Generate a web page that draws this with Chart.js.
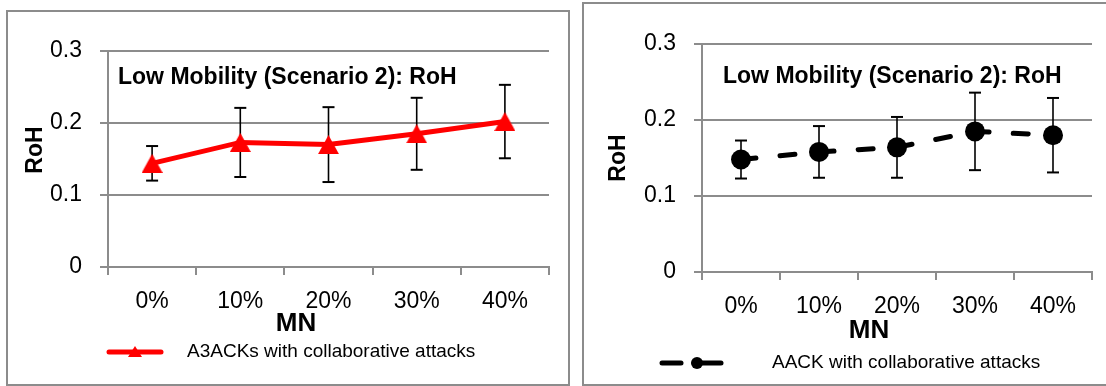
<!DOCTYPE html>
<html>
<head>
  <title>Low Mobility (Scenario 2): RoH</title>
  <script src="https://cdn.jsdelivr.net/npm/chart.js"></script>
  <style>
    body { margin: 0; background: #fff; overflow: hidden; }
    .box { position: absolute; border: 2px solid #8c8c8c; box-sizing: border-box; }
    .wrap { position: absolute; top: 0; height: 386px; }
  </style>
</head>
<body>
  <div class="box" style="left:6px;top:10px;width:564px;height:376px"></div>
  <div class="box" style="left:582px;top:2px;width:600px;height:384px"></div>
  <div class="wrap" style="left:0;width:575px"><canvas id="leftChart"></canvas></div>
  <div class="wrap" style="left:576px;width:530px"><canvas id="rightChart"></canvas></div>
  <script>
    // values
    const mnLabels = ['0%', '10%', '20%', '30%', '40%'];
    const a3ackRoH = [0.144, 0.173, 0.170, 0.185, 0.202];
    const a3ackErr = [0.024, 0.048, 0.052, 0.050, 0.051];
    const aackRoH = [0.148, 0.158, 0.164, 0.185, 0.180];
    const aackErr = [0.025, 0.034, 0.040, 0.051, 0.049];
    const rohTicks = [0, 0.1, 0.2, 0.3];
    const chartTitle = 'Low Mobility (Scenario 2): RoH';
    const xTitle = 'MN';
    const yTitle = 'RoH';
    const a3ackName = 'A3ACKs with collaborative attacks';
    const aackName = 'AACK with collaborative attacks';

    const FONT = '"Liberation Sans", Arial, sans-serif';
    const GRID = '#8c8c8c';
    Chart.defaults.font.family = FONT;
    Chart.defaults.color = '#000';

    // excel style triangle, centred on its bounding box
    function triangle(w, h, color) {
      const c = document.createElement('canvas');
      c.width = w; c.height = h;
      const g = c.getContext('2d');
      g.fillStyle = color;
      g.beginPath();
      g.moveTo(w / 2, 0); g.lineTo(w, h); g.lineTo(0, h);
      g.closePath(); g.fill();
      return c;
    }

    function seg(ctx, x1, y1, x2, y2) {
      ctx.beginPath(); ctx.moveTo(x1, y1); ctx.lineTo(x2, y2); ctx.stroke();
    }

    const errorBars = {
      id: 'errorBars',
      beforeDatasetsDraw(chart) {
        const { ctx, scales: { x, y } } = chart;
        chart.data.datasets.forEach(ds => {
          if (!ds.errors) return;
          ctx.save();
          ctx.strokeStyle = '#000';
          ds.data.forEach((v, i) => {
            const px = x.getPixelForValue(i);
            const top = y.getPixelForValue(v + ds.errors[i]);
            const bot = y.getPixelForValue(v - ds.errors[i]);
            ctx.lineWidth = 1.6;
            seg(ctx, px, top, px, bot);
            ctx.lineWidth = 2;
            seg(ctx, px - 6, top, px + 6, top);
            seg(ctx, px - 6, bot, px + 6, bot);
          });
          ctx.restore();
        });
      }
    };

    // chart title inside the plot, axis titles and the legend row
    const extras = {
      id: 'extras',
      afterDraw(chart, args, o) {
        const ctx = chart.ctx;
        const ds = chart.data.datasets[0];
        ctx.save();
        ctx.fillStyle = '#000';
        ctx.textBaseline = 'middle';

        ctx.font = 'bold 23px ' + FONT;
        ctx.textAlign = 'left';
        ctx.fillText(chartTitle, o.title[0], o.title[1]);

        ctx.textAlign = 'center';
        ctx.save();
        ctx.translate(o.yTitle[0], o.yTitle[1]);
        ctx.rotate(-Math.PI / 2);
        ctx.fillText(yTitle, 0, 0);
        ctx.restore();

        ctx.font = 'bold 26px ' + FONT;
        ctx.fillText(xTitle, o.xTitle[0], o.xTitle[1]);

        const lg = o.legend;
        ctx.strokeStyle = ds.borderColor;
        ctx.fillStyle = ds.borderColor;
        ctx.lineWidth = ds.borderWidth;
        ctx.lineCap = 'round';
        lg.lines.forEach(l => seg(ctx, l[0], lg.y, l[1], lg.y));
        if (lg.marker === 'triangle') {
          ctx.drawImage(triangle(14, 11, ds.borderColor), lg.mx - 7, lg.y - 6);
        } else {
          ctx.beginPath(); ctx.arc(lg.mx, lg.y, 6, 0, Math.PI * 2); ctx.fill();
        }
        ctx.fillStyle = '#000';
        ctx.font = '19px ' + FONT;
        ctx.textAlign = 'left';
        ctx.fillText(ds.label, lg.tx, lg.y);
        ctx.restore();
      }
    };

    function makeChart(id, dataset, axisW, axisH, pad, extraOpts) {
      return new Chart(document.getElementById(id), {
        type: 'line',
        data: { labels: mnLabels, datasets: [dataset] },
        options: {
          responsive: true,
          maintainAspectRatio: false,
          animation: false,
          events: [],
          layout: { padding: pad },
          plugins: { legend: { display: false }, tooltip: { enabled: false }, extras: extraOpts },
          scales: {
            x: {
              offset: true,
              grid: { offset: true, drawOnChartArea: false, drawTicks: true, tickLength: 8, color: GRID, lineWidth: 2 },
              border: { color: GRID, width: 2 },
              ticks: { font: { size: 23 }, padding: 13, maxRotation: 0 },
              afterFit: s => { s.height = axisH; }
            },
            y: {
              min: 0, max: 0.3,
              afterBuildTicks: s => { s.ticks = rohTicks.map(v => ({ value: v })); },
              grid: { color: GRID, lineWidth: 2, tickLength: 8 },
              border: { color: GRID, width: 2 },
              ticks: { font: { size: 23 }, padding: 18, callback: v => String(v) },
              afterFit: s => { s.width = axisW; }
            }
          }
        },
        plugins: [errorBars, extras]
      });
    }

    // nudge the padding so the plot area lands where the reference has it
    function pinArea(chart, top, right) {
      const a = chart.chartArea;
      const p = chart.config.options.layout.padding;
      p.top += top - a.top;
      p.right += a.right - right;
      chart.update();
    }

    const left = makeChart('leftChart', {
      label: a3ackName,
      data: a3ackRoH,
      errors: a3ackErr,
      borderColor: '#ff0000',
      backgroundColor: '#ff0000',
      borderWidth: 5,
      pointStyle: triangle(21, 19, '#ff0000'),
      pointRadius: 10,
      tension: 0,
      clip: false
    }, 108, 119, { left: 0, right: 26, top: 51, bottom: 0 }, {
      title: [118, 78], yTitle: [36, 150], xTitle: [296, 324],
      legend: { y: 352, lines: [[109, 161]], marker: 'triangle', mx: 135, tx: 187 }
    });
    pinArea(left, 51, 549);

    const right = makeChart('rightChart', {
      label: aackName,
      data: aackRoH,
      errors: aackErr,
      borderColor: '#000',
      backgroundColor: '#000',
      borderWidth: 5,
      borderDash: [15, 24.2],
      borderCapStyle: 'round',
      pointStyle: 'circle',
      pointRadius: 10,
      pointBorderWidth: 0,
      tension: 0,
      clip: false
    }, 126, 114, { left: 0, right: 14, top: 44, bottom: 0 }, {
      title: [147, 77], yTitle: [43, 158], xTitle: [293, 331],
      legend: { y: 363, lines: [[86, 105], [118, 145]], marker: 'circle', mx: 121, tx: 196 }
    });
    pinArea(right, 44, 516);
  </script>
</body>
</html>
